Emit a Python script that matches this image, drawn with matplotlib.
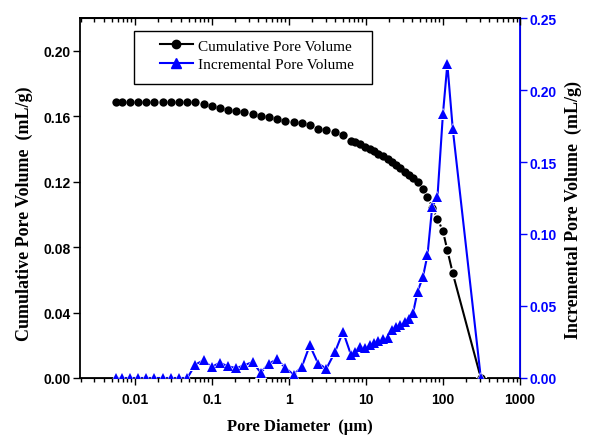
import numpy as np
import matplotlib
matplotlib.use("Agg")
import matplotlib.pyplot as plt
import matplotlib.patches as patches
from matplotlib.lines import Line2D
from matplotlib.ticker import FixedLocator, LogLocator, NullFormatter, FuncFormatter

# pore diameter (um), shared by both series
diameter = [0.00567, 0.00679, 0.00869, 0.0110, 0.0142, 0.0180, 0.0231, 0.0292,
            0.0375, 0.0482, 0.0611, 0.0783, 0.0993, 0.127, 0.162, 0.208, 0.264,
            0.338, 0.432, 0.549, 0.705, 0.895, 1.15, 1.47, 1.87, 2.40, 3.07,
            3.98, 5.05, 6.41, 7.18, 8.46, 9.73, 11.2, 12.6, 14.5, 16.7, 19.1,
            21.5, 24.3, 27.9, 32.1, 36.2, 40.8, 46.8, 55.0, 63.0, 72.5, 84.9,
            99.8, 114, 134, 310]

# cumulative pore volume (mL/g), left axis
cumulative = [0.1686, 0.1686, 0.1686, 0.1686, 0.1686, 0.1686, 0.1686, 0.1686,
              0.1686, 0.1686, 0.1686, 0.1676, 0.1662, 0.1651, 0.1639, 0.1631,
              0.1625, 0.1615, 0.1600, 0.1592, 0.1582, 0.1570, 0.1562, 0.1558,
              0.1547, 0.1523, 0.1513, 0.1503, 0.1486, 0.1450, 0.1441, 0.1427,
              0.1411, 0.1397, 0.1385, 0.1369, 0.1354, 0.1337, 0.1320, 0.1304,
              0.1281, 0.1260, 0.1242, 0.1221, 0.1197, 0.1155, 0.1109, 0.1040,
              0.0972, 0.0899, 0.0781, 0.0640, 0.0]

# incremental pore volume (mL/g), right axis
incremental = [0, 0, 0, 0, 0, 0, 0, 0, 0, 0, 0.0093, 0.0123, 0.0076, 0.0106,
               0.0081, 0.0069, 0.0088, 0.0111, 0.0037, 0.0100, 0.0130, 0.0072,
               0.0023, 0.0076, 0.0227, 0.0100, 0.0065, 0.0181, 0.0322, 0.0160,
               0.0183, 0.0217, 0.0206, 0.0229, 0.0245, 0.0259, 0.0269, 0.0276,
               0.0333, 0.0356, 0.0368, 0.0391, 0.0408, 0.0449, 0.0599, 0.0703,
               0.0854, 0.119, 0.126, 0.183, 0.218, 0.173, 0.0]

left_ticks = [0.00, 0.04, 0.08, 0.12, 0.16, 0.20]
right_ticks = [0.00, 0.05, 0.10, 0.15, 0.20, 0.25]
x_ticks = [0.01, 0.1, 1, 10, 100, 1000]

tick_font = dict(family="Liberation Sans", weight="bold", size=10)
xlabel_font = dict(family="Liberation Serif", weight="bold", size=12)
ylabel_font = dict(family="Liberation Serif", weight="bold", size=13)


def plot_series(axis, x, y, color, marker, size):
    # line, then a white halo so the line stops short of each symbol
    axis.plot(x, y, color=color, linewidth=1.5, zorder=2)
    axis.plot(x, y, linestyle="none", marker=marker, markersize=size + 2.2,
              color="white", markeredgewidth=0, zorder=3)
    axis.plot(x, y, linestyle="none", marker=marker, markersize=size,
              color=color, markeredgewidth=0, zorder=4)


fig = plt.figure(figsize=(5.89, 4.39), dpi=100)
ax = fig.add_axes([0.1358, 0.1367, 0.7471, 0.82])
ax2 = ax.twinx()

plot_series(ax, diameter, cumulative, "black", "o", 6.0)
plot_series(ax2, diameter, incremental, "blue", "^", 6.8)

ax.set_xscale("log")
ax.set_xlim(0.00195, 1000)
ax.set_ylim(0, 0.22)
ax2.set_ylim(0, 0.25)

ax.xaxis.set_major_locator(FixedLocator(x_ticks))
ax.xaxis.set_minor_locator(LogLocator(base=10, subs=np.arange(2, 10), numticks=20))
ax.xaxis.set_minor_formatter(NullFormatter())
ax.xaxis.set_major_formatter(FuncFormatter(lambda v, p: "%g" % v))
ax.yaxis.set_major_locator(FixedLocator(left_ticks))
ax.yaxis.set_major_formatter(FuncFormatter(lambda v, p: "%.2f" % v))
ax2.yaxis.set_major_locator(FixedLocator(right_ticks))
ax2.yaxis.set_major_formatter(FuncFormatter(lambda v, p: "%.2f" % v))

ax.tick_params(axis="x", which="major", direction="out", length=5, width=1, pad=5)
ax.tick_params(axis="x", which="minor", direction="out", length=3, width=1)
ax.tick_params(axis="y", which="major", direction="out", length=5, width=1, pad=1.5)
ax2.tick_params(axis="y", which="major", direction="out", length=5, width=1,
                colors="blue", pad=1.5)
for lab in ax.get_xticklabels() + ax.get_yticklabels():
    lab.set(**tick_font)
for lab in ax2.get_yticklabels():
    lab.set(**tick_font)
    lab.set_color("blue")

# top axis: inward ticks, no labels
ax3 = ax.twiny()
ax3.set_xscale("log")
ax3.set_xlim(ax.get_xlim())
ax3.xaxis.set_major_locator(FixedLocator(x_ticks))
ax3.xaxis.set_minor_locator(LogLocator(base=10, subs=np.arange(2, 10), numticks=20))
ax3.xaxis.set_major_formatter(NullFormatter())
ax3.xaxis.set_minor_formatter(NullFormatter())
ax3.tick_params(axis="x", which="major", direction="in", length=5, width=1)
ax3.tick_params(axis="x", which="minor", direction="in", length=3, width=1)
for sp in ["left", "right", "bottom"]:
    ax3.spines[sp].set_visible(False)
ax3.spines["top"].set_linewidth(1.3)

for sp in ["left", "bottom", "top"]:
    ax.spines[sp].set_linewidth(1.3)
ax2.spines["right"].set_color("blue")
ax2.spines["right"].set_linewidth(1.3)
ax2.spines["left"].set_visible(False)

ax.set_xlabel("Pore Diameter  (\u03bcm)", labelpad=9, **xlabel_font)
ax.set_ylabel("Cumulative Pore Volume  (mL/g)", **ylabel_font)
ax2.set_ylabel("Incremental Pore Volume  (mL/g)", **ylabel_font)
ax.yaxis.set_label_coords(-0.107, 0.46)
ax2.yaxis.set_label_coords(1.102, 0.47)

# legend with a plain rectangular frame
h1 = Line2D([], [], color="black", linewidth=1.5, marker="o", markersize=6.0)
h2 = Line2D([], [], color="blue", linewidth=1.5, marker="^", markersize=6.8)
ax3.add_patch(patches.Rectangle((0.1227, 0.817), 0.541, 0.147,
                                transform=ax3.transAxes, fill=False,
                                edgecolor="black", linewidth=1.0, zorder=10))
ax3.legend(handles=[h1, h2],
           labels=["Cumulative Pore Volume", "Incremental Pore Volume"],
           loc="upper left", bbox_to_anchor=(0.182, 0.942), frameon=False,
           prop=dict(family="Liberation Serif", size=11),
           handlelength=2.15, handletextpad=0.33, borderpad=0,
           labelspacing=0.3, borderaxespad=0)

fig.savefig("out.png", dpi=100)
